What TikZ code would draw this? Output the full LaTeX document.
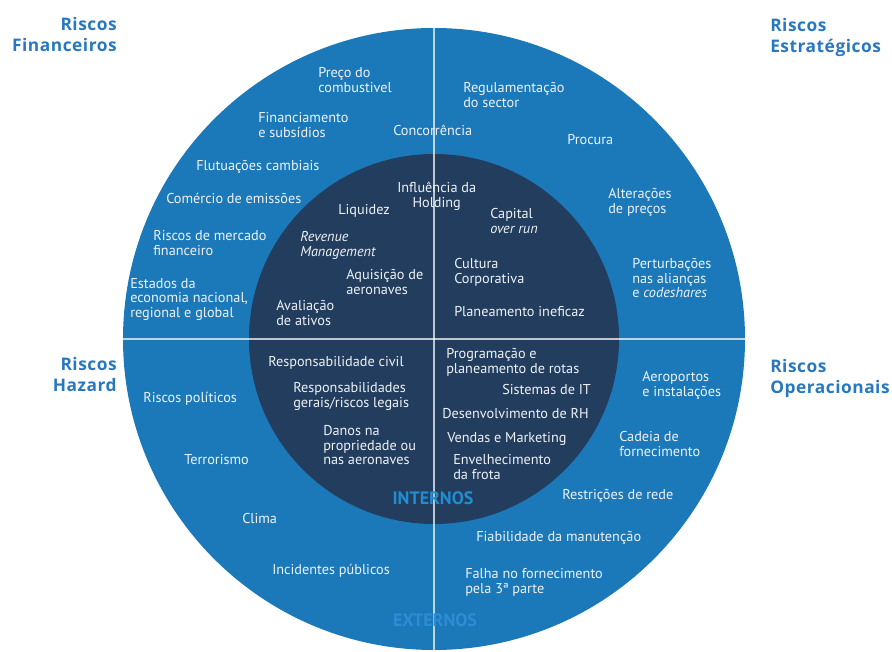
\documentclass[tikz,border=0pt]{standalone}
\usepackage{fontspec}
\setmainfont{PT Sans}
\newfontfamily\titlefont{Open Sans}[LetterSpace=3]
\usetikzlibrary{calc}
\usetikzlibrary{shapes}
\definecolor{outerblue}{RGB}{27,121,185}
\definecolor{innernavy}{RGB}{34,61,94}
\definecolor{titleblue}{RGB}{40,120,192}
\definecolor{labelwhite}{RGB}{238,242,246}
\definecolor{internblue}{RGB}{32,142,208}
\definecolor{externblue}{RGB}{44,140,212}

\begin{document}
\begin{tikzpicture}[x=0.75pt,y=-0.75pt,
risk/.style={anchor=north west,inner sep=0pt,align=left,text=labelwhite,font=\fontsize{10.7}{11}\selectfont},
group/.style={inner sep=0pt,text=titleblue,font=\titlefont\bfseries\fontsize{13}{15.8}\selectfont},
zone/.style={inner sep=0pt,font=\bfseries\fontsize{13.5}{14}\selectfont},
divider/.style={draw=white,draw opacity=0.7,line width=0.8pt}]
\useasboundingbox (0,0) rectangle (892,652);
\node[name=outer, circle, fill=outerblue, inner sep=0pt, minimum size=466.5pt] at (434,339) {};
\node[name=inner, circle, fill=innernavy, inner sep=0pt, minimum size=277.5pt] at (434,339) {};
\draw[divider] (outer.north) -- (outer.south);
\draw[divider] (outer.west) -- (outer.east);
\node[name=title_fin, group, anchor=north east, align=right] at (117,17) {Riscos\\Financeiros};
\node[name=title_str, group, anchor=north west, align=left] at (770,18) {Riscos\\Estratégicos};
\node[name=title_haz, group, anchor=north east, align=right] at (117,357) {Riscos\\Hazard};
\node[name=title_op, group, anchor=north west, align=left] at (770,359) {Riscos\\Operacionais};
\node[name=fin_fuel, risk] at (318,67) {Preço do\\combustivel};
\node[name=fin_funding, risk] at (258,112) {Financiamento\\e subsídios};
\node[name=str_competition, risk] at (393,125) {Concorrência};
\node[name=fin_fx, risk] at (196,160) {Flutuações cambiais};
\node[name=fin_emissions, risk] at (166,193) {Comércio de emissões};
\node[name=fin_liquidity, risk] at (338,204) {Liquidez};
\node[name=str_holding, risk, align=center] at (397,182) {Influência da\\Holding};
\node[name=fin_market, risk] at (153,230) {Riscos de mercado\\financeiro};
\node[name=fin_revenue, risk, font=\itshape\fontsize{10.7}{11}\selectfont] at (300,231) {Revenue\\Management};
\node[name=fin_aircraft, risk] at (346,269) {Aquisição de\\aeronaves};
\node[name=fin_economy, risk] at (130,278) {Estados da\\economia nacional,\\regional e global};
\node[name=fin_assets, risk] at (276,300) {Avaliação\\de ativos};
\node[name=str_regulation, risk] at (463,82) {Regulamentação\\do sector};
\node[name=str_demand, risk] at (567,134) {Procura};
\node[name=str_capital, risk] at (490,208) {Capital\\\textit{over run}};
\node[name=str_pricing, risk] at (608,188) {Alterações\\de preços};
\node[name=str_culture, risk] at (454,258) {Cultura\\Corporativa};
\node[name=str_alliances, risk] at (632,258) {Perturbações\\nas alianças\\e \textit{codeshares}};
\node[name=str_planning, risk] at (454,306) {Planeamento ineficaz};
\node[name=haz_civil, risk] at (268,356) {Responsabilidade civil};
\node[name=haz_legal, risk] at (293,382) {Responsabilidades\\gerais/riscos legais};
\node[name=haz_damage, risk] at (323,425) {Danos na\\propriedade ou\\nas aeronaves};
\node[name=haz_political, risk] at (143,392) {Riscos políticos};
\node[name=haz_terrorism, risk] at (184,454) {Terrorismo};
\node[name=haz_climate, risk] at (242,513) {Clima};
\node[name=haz_incidents, risk] at (272,564) {Incidentes públicos};
\node[name=op_routes, risk] at (446,348) {Programação e\\planeamento de rotas};
\node[name=op_it, risk] at (502,384) {Sistemas de IT};
\node[name=op_hr, risk] at (442,408) {Desenvolvimento de RH};
\node[name=op_sales, risk] at (447,432) {Vendas e Marketing};
\node[name=op_fleet, risk] at (453,454) {Envelhecimento\\da frota};
\node[name=op_airports, risk] at (642,371) {Aeroportos\\e instalações};
\node[name=op_supply, risk] at (619,431) {Cadeia de\\fornecimento};
\node[name=op_network, risk] at (562,489) {Restrições de rede};
\node[name=op_maintenance, risk] at (476,531) {Fiabilidade da manutenção};
\node[name=op_thirdparty, risk] at (465,568) {Falha no fornecimento\\pela 3ª parte};
\node[name=internal, zone, text=internblue] at (433,498) {INTERNOS};
\node[name=external, zone, text=externblue] at (435,620) {EXTERNOS};
\end{tikzpicture}
\end{document}
